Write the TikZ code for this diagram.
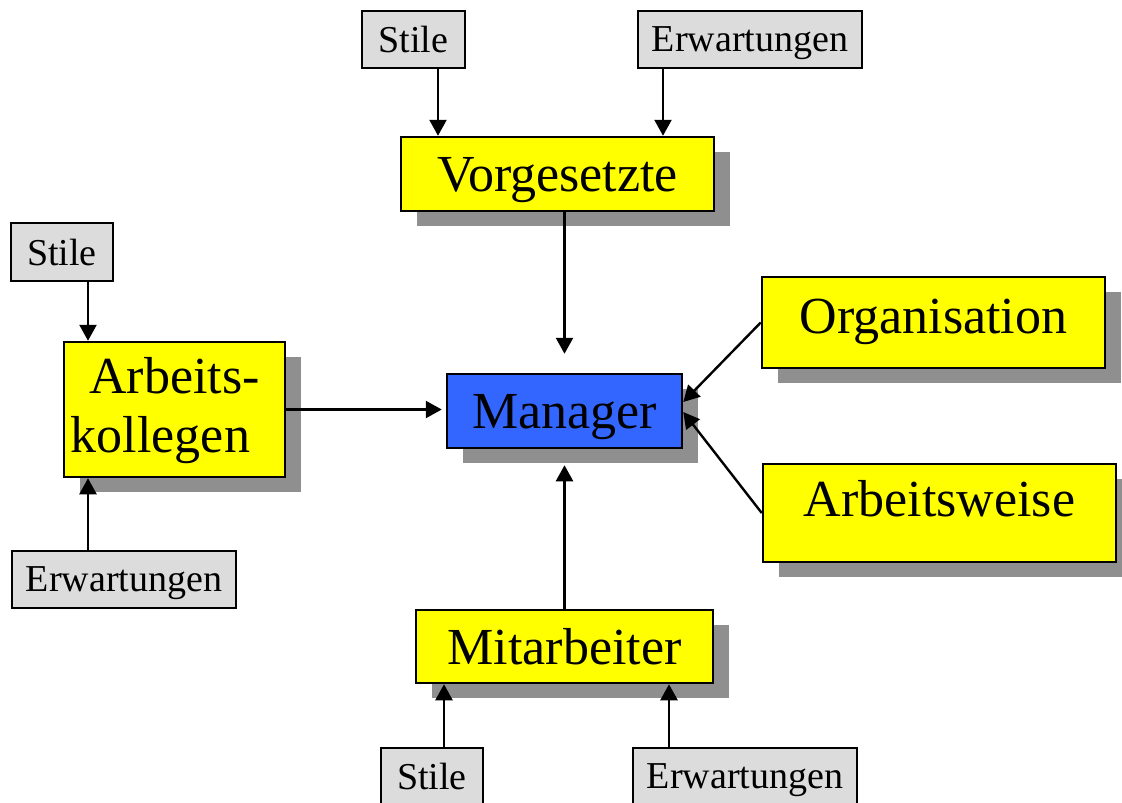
\documentclass[tikz,border=0pt]{standalone}
\usepackage{fontspec}
\setmainfont{Liberation Serif}
\usetikzlibrary{arrows.meta,shadows}
\definecolor{boxgray}{HTML}{DCDCDC}
\definecolor{shadowgray}{HTML}{8F8F8F}
\definecolor{mgrblue}{HTML}{3366FF}
\definecolor{boxyellow}{HTML}{FFFF00}
\tikzset{
  base/.style={draw=black, line width=2.5pt, inner sep=0pt, text depth=0pt, anchor=center},
  smallbox/.style={base, fill=boxgray, font=\fontsize{38}{44}\selectfont},
  bigbox/.style={base, fill=boxyellow, font=\fontsize{52}{59}\selectfont,
    general shadow={fill=shadowgray, shadow xshift=16pt, shadow yshift=-15pt}},
  arr/.style={line width=2.4pt, -{Triangle[length=16pt,width=17pt]}},
}
\begin{document}
\begin{tikzpicture}[x=1pt,y=-1pt]
\useasboundingbox (0,0) rectangle (1122,803);
\clip (0,0) rectangle (1122,803);
% top
\node[smallbox, minimum width=103pt, minimum height=57pt] (stileT) at (413.5,39.5) {Stile};
\node[smallbox, minimum width=224pt, minimum height=57pt] (erwT) at (750,39.5) {Erwartungen};
\node[bigbox, minimum width=313pt, minimum height=74pt] (vorg) at (557.5,174) {Vorgesetzte};
% left
\node[smallbox, minimum width=102pt, minimum height=58pt] (stileL) at (62,252) {Stile};
\node[bigbox, minimum width=221pt, minimum height=135pt, align=center, text depth=10pt] (arb) at (174.5,409.5) {Arbeits-\\kollegen\hspace*{28pt}};
\node[smallbox, minimum width=224pt, minimum height=57pt] (erwL) at (124,579.5) {Erwartungen};
% center
\node[bigbox, fill=mgrblue, minimum width=235pt, minimum height=74pt] (man) at (564.5,411) {Manager};
% right
\node[bigbox, minimum width=343pt, minimum height=91pt, text depth=13pt] (org) at (933.5,322.5) {Organisation};
\node[bigbox, minimum width=353pt, minimum height=98pt, text depth=30pt] (aweise) at (939.5,513) {Arbeitsweise};
% bottom
\node[bigbox, minimum width=297pt, minimum height=73pt] (mit) at (564.5,646.5) {Mitarbeiter};
\node[smallbox, minimum width=102pt, minimum height=57pt] (stileB) at (432,776.5) {Stile};
\node[smallbox, minimum width=224pt, minimum height=57pt] (erwB) at (745,776.5) {Erwartungen};
% connectors
\draw[arr] ([xshift=24.5pt]stileT.south) -- ([xshift=-119.5pt]vorg.north);
\draw[arr] ([xshift=-87pt]erwT.south) -- ([xshift=105.5pt]vorg.north);
\draw[arr] (vorg.south -| man.north) -- ([yshift=19pt]man.north);
\draw[arr] ([xshift=26pt]stileL.south) -- ([xshift=-86.5pt]arb.north);
\draw[arr] ([xshift=-36pt]erwL.north) -- ([xshift=-86.5pt]arb.south);
\draw[arr, shorten >=4pt] (arb.east) -- (man.west |- arb.east);
\draw[arr] (org.west) -- ([yshift=9pt]man.east);
\draw[arr] (aweise.west) -- ([yshift=-1pt]man.east);
\draw[arr] (mit.north) -- ([yshift=-16pt]man.south);
\draw[arr] ([xshift=12pt]stileB.north) -- ([xshift=-120.5pt]mit.south);
\draw[arr] ([xshift=-76pt]erwB.north) -- ([xshift=104.5pt]mit.south);
\end{tikzpicture}
\end{document}
